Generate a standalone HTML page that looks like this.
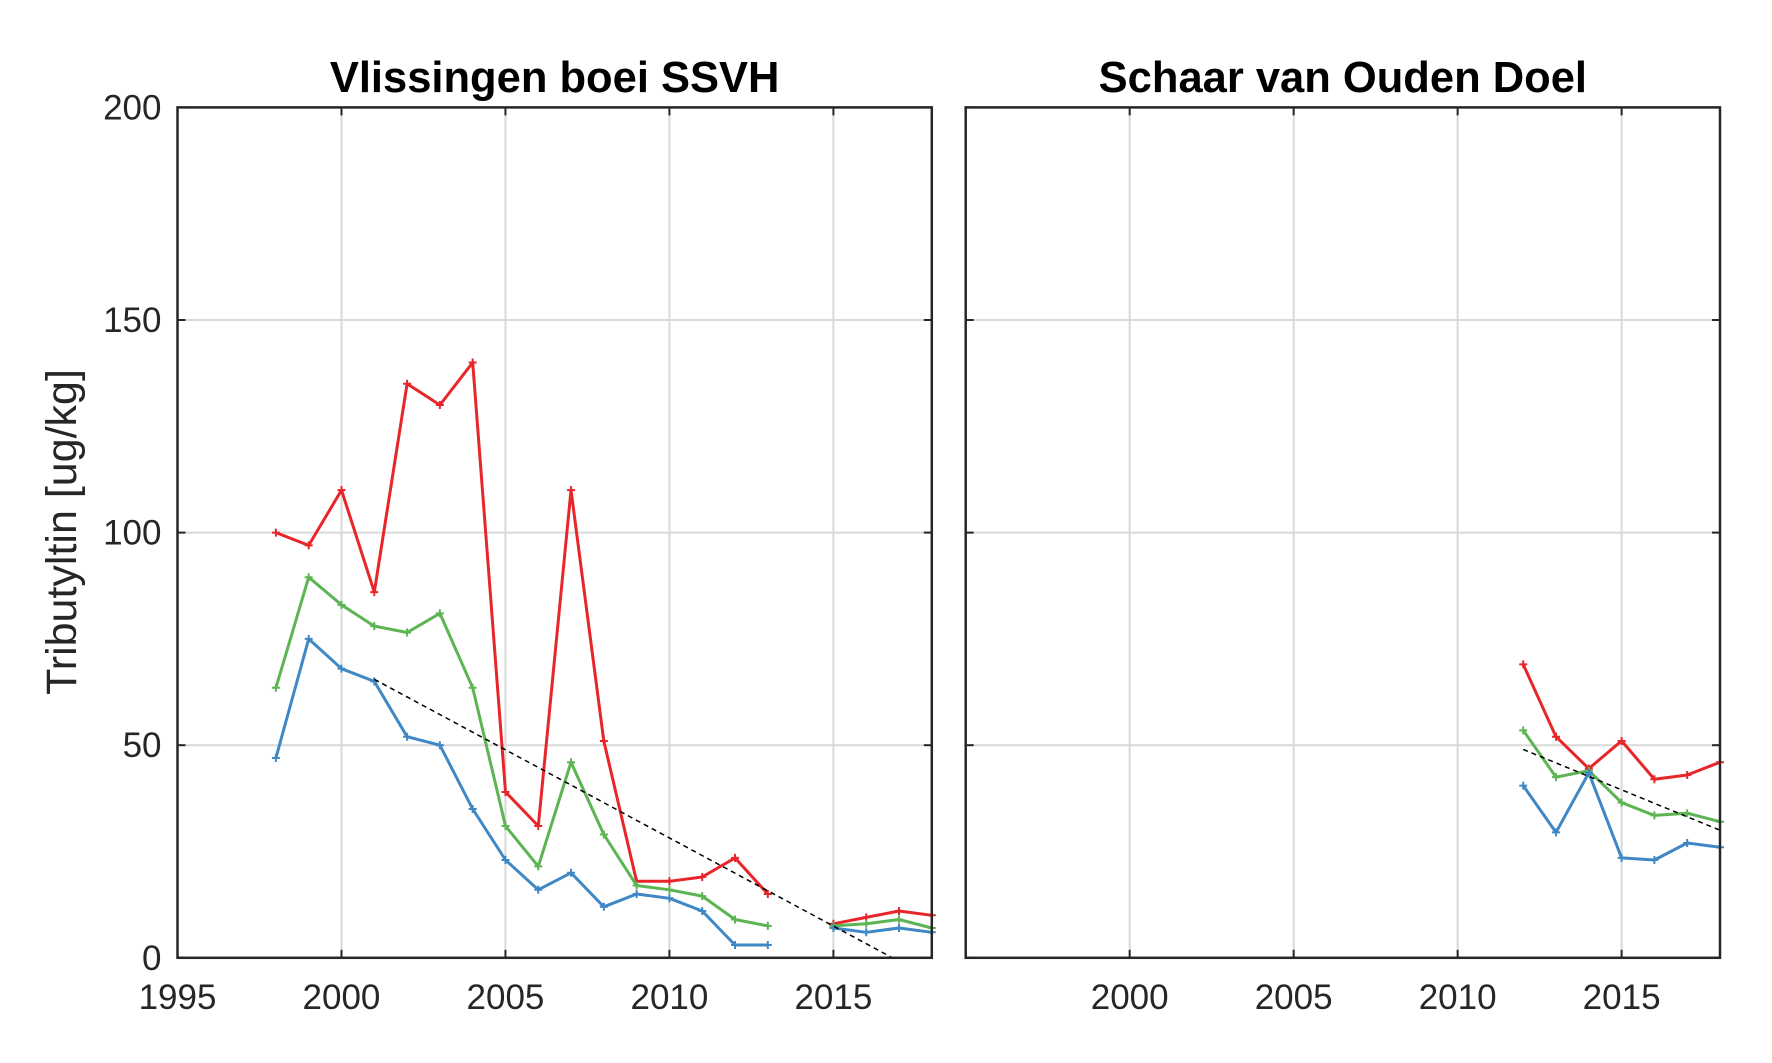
<!DOCTYPE html>
<html><head><meta charset="utf-8"><style>
html,body{margin:0;padding:0;background:#fff}
svg{display:block}
text{font-family:"Liberation Sans",Arial,sans-serif;fill:#262626}
</style></head><body>
<svg id="chart" width="1772" height="1063" viewBox="0 0 1772 1063" xmlns="http://www.w3.org/2000/svg"></svg>
<script>
const yearsL = [1998,1999,2000,2001,2002,2003,2004,2005,2006,2007,2008,2009,2010,2011,2012,2013,null,2015,2016,2017,2018];
const redL   = [100,97,110,86,135,130,140,39,31,110,51,18,18,19,23.5,15,null,8,9.5,11,10];
const greenL = [63.5,89.5,83,78,76.5,81,63.5,31,21.5,46,29,17,16,14.5,9,7.5,null,7.5,8,9,7];
const blueL  = [47,75,68,65,52,50,35,23,16,20,12,15,14,11,3,3,null,7,6,7,6];
const trendL = [[2001,65.5],[2016.8,0]];
const yearsR = [2012,2013,2014,2015,2016,2017,2018];
const redR   = [69,52,44.5,51,42,43,46];
const greenR = [53.5,42.5,44,36.5,33.5,34,32];
const blueR  = [40.5,29.5,43.5,23.5,23,27,26];
const trendR = [[2012,49],[2018,30]];
const yTicks = [0,50,100,150,200];
const xTicksL = [1995,2000,2005,2010,2015];
const xTicksR = [2000,2005,2010,2015];
const titles = ["Vlissingen boei SSVH","Schaar van Ouden Doel"];

const NS="http://www.w3.org/2000/svg";
const svg=document.getElementById('chart');
function mk(tag,attrs,parent){const e=document.createElementNS(NS,tag);for(const k in attrs)e.setAttribute(k,attrs[k]);(parent||svg).appendChild(e);return e;}
const yTop=107.4,yBot=957.8;
const panels=[{x0:177.5,x1:931.8,ticks:xTicksL,series:[[yearsL,redL],[yearsL,greenL],[yearsL,blueL]],trend:trendL,name:'panel-vlissingen'},
              {x0:965.7,x1:1720,ticks:xTicksR,series:[[yearsR,redR],[yearsR,greenR],[yearsR,blueR]],trend:trendR,name:'panel-schaar'}];
const colors=['#e8262a','#5cb453','#3f88c5'];
const cnames=['red-series','green-series','blue-series'];
panels.forEach((p,pi)=>{
  const g=mk('g',{});
  
  
  const xs=v=>p.x0+(v-1995)*(p.x1-p.x0)/23;
  const ys=v=>yBot-v*(yBot-yTop)/200;
  p.ticks.forEach(t=>{ if(t>1995){const l=mk('line',{x1:xs(t),x2:xs(t),y1:yTop,y2:yBot,stroke:'#d9d9d9','stroke-width':2},g);
    }});
  yTicks.forEach(t=>{ if(t>0&&t<200){const l=mk('line',{x1:p.x0,x2:p.x1,y1:ys(t),y2:ys(t),stroke:'#d9d9d9','stroke-width':2},g);
    }});
  yTicks.forEach(t=>{
    mk('line',{x1:p.x0,x2:p.x0+8,y1:ys(t),y2:ys(t),stroke:'#262626','stroke-width':2},g);
    mk('line',{x1:p.x1,x2:p.x1-8,y1:ys(t),y2:ys(t),stroke:'#262626','stroke-width':2},g);
    if(pi===0){const tx=mk('text',{x:p.x0-16,y:ys(t)+12,'text-anchor':'end','font-size':35},g);tx.textContent=t;
      }
  });
  p.ticks.forEach(t=>{
    mk('line',{x1:xs(t),x2:xs(t),y1:yBot,y2:yBot-8,stroke:'#262626','stroke-width':2},g);
    mk('line',{x1:xs(t),x2:xs(t),y1:yTop,y2:yTop+8,stroke:'#262626','stroke-width':2},g);
    const tx=mk('text',{x:xs(t),y:yBot+51,'text-anchor':'middle','font-size':35},g);tx.textContent=t;
    
  });
  p.series.forEach((s,si)=>{
    const [yrs,vals]=s;let d='';let pen=false;
    const grp=mk('g',{},g);
    
    yrs.forEach((y,i)=>{
      if(y===null||vals[i]===null){pen=false;return;}
      const X=xs(y),Y=ys(vals[i]);d+=(pen?'L':'M')+X.toFixed(1)+' '+Y.toFixed(1);pen=true;
      const m=mk('path',{d:`M${X-4} ${Y}H${X+4}M${X} ${Y-4}V${Y+4}`,stroke:colors[si],'stroke-width':2},grp);
      
    });
    mk('path',{d:d,fill:'none',stroke:colors[si],'stroke-width':3,'stroke-linejoin':'round'},grp);
  });
  const tr=mk('line',{x1:xs(p.trend[0][0]),y1:ys(p.trend[0][1]),x2:xs(p.trend[1][0]),y2:ys(p.trend[1][1]),stroke:'#000','stroke-width':1.5,'stroke-dasharray':'5 4'},g);
  
  const fr=mk('rect',{x:p.x0,y:yTop,width:p.x1-p.x0,height:yBot-yTop,fill:'none',stroke:'#262626','stroke-width':2.5},g);
  
  const ti=mk('text',{x:(p.x0+p.x1)/2,y:92,'text-anchor':'middle','font-size':43.5,'font-weight':'bold'},g);
  ti.textContent=titles[pi];
  ti.style.fill='#000';
});
const yl=mk('text',{x:0,y:0,'text-anchor':'middle','font-size':43,transform:'translate(76,532) rotate(-90)'});
yl.textContent='Tributyltin [ug/kg]';


</script>
</body></html>
